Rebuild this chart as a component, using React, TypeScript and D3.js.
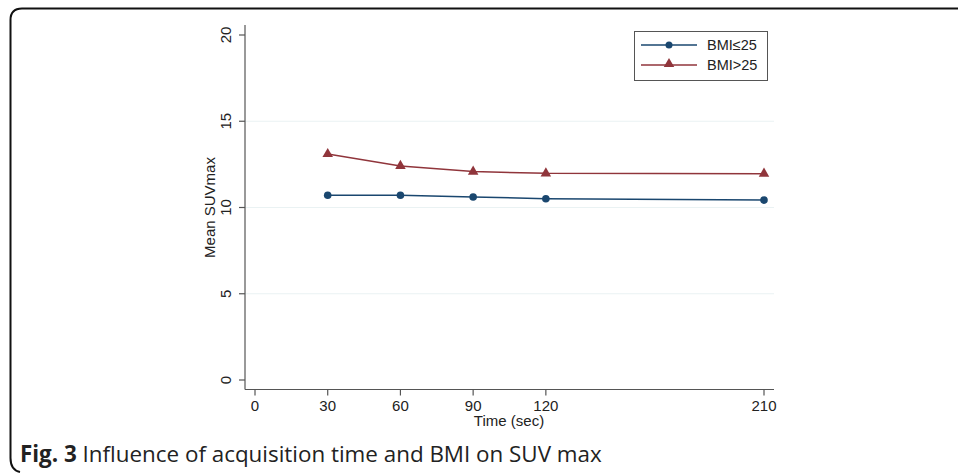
import React from "react";
import * as d3 from "d3";

const times = [30, 60, 90, 120, 210];
const bmiLow = [10.71, 10.71, 10.61, 10.51, 10.43];
const bmiHigh = [13.1, 12.41, 12.08, 11.98, 11.96];
const xTicks = [0, 30, 60, 90, 120, 210];
const yTicks = [0, 5, 10, 15, 20];
const gridTicks = [5, 10, 15];
const seriesNames = ["BMI≤25", "BMI>25"];

const BLUE = "#1a476f";
const RED = "#90353b";
const FONT = "'Liberation Sans', Arial, Helvetica, sans-serif";

export default function App() {
  const W = 958, H = 473;
  const x = d3.scaleLinear().domain([0, 210]).range([255, 764]);
  const y = d3.scaleLinear().domain([0, 20]).range([380, 35]);
  const plotL = 245, plotR = 774, axisY = 389.5;
  const line = d3.line<number>().x((_, i) => x(times[i])).y((d) => y(d));
  const tri = d3.symbol().type(d3.symbolTriangle).size(48)();
  return (
    <svg width={W} height={H} style={{ position: "absolute", left: 0, top: 0, background: "#fff" }}>
      <path d={`M ${W} 8.5 H 22 Q 10.5 8.5 10.5 20 V 458 Q 10.5 470 20 472`} fill="none" stroke="#111" strokeWidth={2} />
      {gridTicks.map((t) => (
        <line key={t} x1={plotL} x2={plotR} y1={y(t)} y2={y(t)} stroke="#eaf2f3" strokeWidth={1} />
      ))}
      {/* y axis */}
      <line x1={plotL} x2={plotL} y1={25} y2={axisY} stroke="#555" strokeWidth={1.2} />
      {yTicks.map((t) => (
        <g key={t}>
          <line x1={plotL - 6} x2={plotL} y1={y(t)} y2={y(t)} stroke="#555" strokeWidth={1.2} />
          <text transform={`translate(${plotL - 14},${y(t)}) rotate(-90)`} textAnchor="middle" fontFamily={FONT} fontSize={15} fill="#222">{t}</text>
        </g>
      ))}
      <text transform={`translate(215,${y(10)}) rotate(-90)`} textAnchor="middle" fontFamily={FONT} fontSize={15} fill="#222">Mean SUVmax</text>
      {/* x axis */}
      <line x1={plotL} x2={plotR} y1={axisY} y2={axisY} stroke="#555" strokeWidth={1.2} />
      {xTicks.map((t) => (
        <g key={t}>
          <line x1={x(t)} x2={x(t)} y1={axisY} y2={axisY + 6} stroke="#555" strokeWidth={1.2} />
          <text x={x(t)} y={axisY + 21} textAnchor="middle" fontFamily={FONT} fontSize={15} fill="#222">{t}</text>
        </g>
      ))}
      <text x={509} y={axisY + 36} textAnchor="middle" fontFamily={FONT} fontSize={15} fill="#222">Time (sec)</text>
      {/* series */}
      <path d={line(bmiHigh) || ""} fill="none" stroke={RED} strokeWidth={1.5} />
      {bmiHigh.map((v, i) => (
        <path key={i} d={tri || ""} transform={`translate(${x(times[i])},${y(v)})`} fill={RED} />
      ))}
      <path d={line(bmiLow) || ""} fill="none" stroke={BLUE} strokeWidth={1.5} />
      {bmiLow.map((v, i) => (
        <circle key={i} cx={x(times[i])} cy={y(v)} r={3.8} fill={BLUE} />
      ))}
      {/* legend */}
      <rect x={634.5} y={31.5} width={133} height={49} fill="#fff" stroke="#555" strokeWidth={1} />
      <line x1={641} x2={697} y1={45} y2={45} stroke={BLUE} strokeWidth={1.5} />
      <circle cx={669} cy={45} r={3.5} fill={BLUE} />
      <text x={707} y={50} fontFamily={FONT} fontSize={14.5} fill="#222">{seriesNames[0]}</text>
      <line x1={641} x2={697} y1={65} y2={65} stroke={RED} strokeWidth={1.5} />
      <path d={tri || ""} transform="translate(669,64)" fill={RED} />
      <text x={707} y={70} fontFamily={FONT} fontSize={14.5} fill="#222">{seriesNames[1]}</text>
      {/* caption */}
      <text x={20} y={462} fontFamily="'Open Sans', sans-serif" fontSize={22.4} fill="#222">
        <tspan fontWeight="bold">Fig. 3</tspan> Influence of acquisition time and BMI on SUV max
      </text>
    </svg>
  );
}
